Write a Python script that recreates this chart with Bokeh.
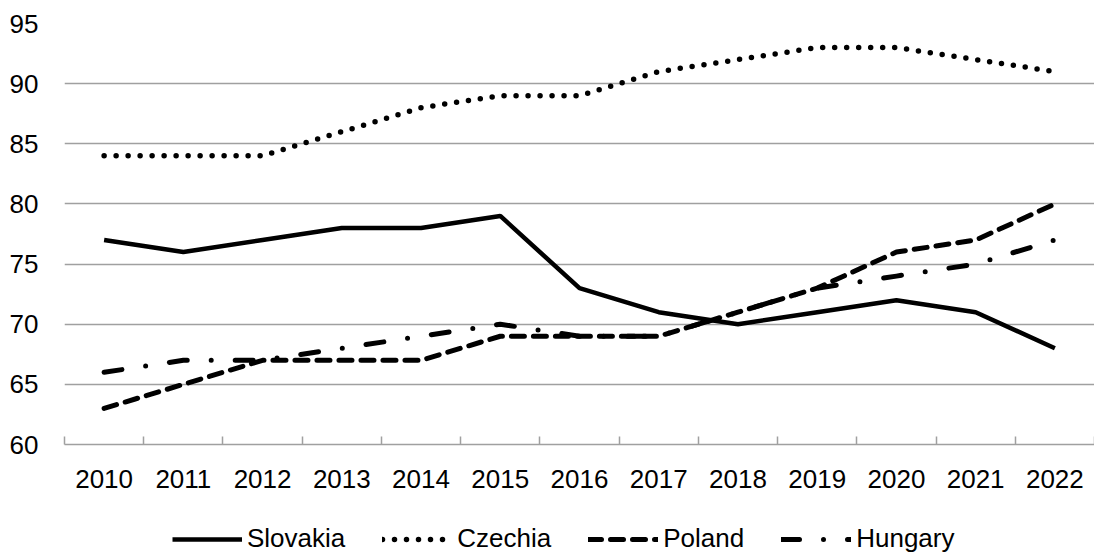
from bokeh.plotting import figure
from bokeh.layouts import column
from bokeh.models import Range1d, FixedTicker, Legend, LegendItem
from bokeh.embed import file_html
from bokeh.resources import INLINE

years = [2010, 2011, 2012, 2013, 2014, 2015, 2016, 2017, 2018, 2019, 2020, 2021, 2022]
slovakia = [77, 76, 77, 78, 78, 79, 73, 71, 70, 71, 72, 71, 68]
czechia = [84, 84, 84, 86, 88, 89, 89, 91, 92, 93, 93, 92, 91]
poland = [63, 65, 67, 67, 67, 69, 69, 69, 71, 73, 76, 77, 80]
hungary = [66, 67, 67, 68, 69, 70, 69, 69, 71, 73, 74, 75, 77]
names = ["Slovakia", "Czechia", "Poland", "Hungary"]
y_ticks = [60, 65, 70, 75, 80, 85, 90, 95]

series = [slovakia, czechia, poland, hungary]
styles = [dict(line_width=4.5),
          dict(line_width=5.5, line_dash="0 12", line_cap="round"),
          dict(line_width=5, line_dash="13 9", line_cap="round"),
          dict(line_width=5, line_dash="18 24 0 24", line_cap="round")]

FONT = "'Liberation Sans Narrow', 'Arial Narrow', 'Liberation Sans', Arial, sans-serif"
FS = "26px"

p = figure(width=1094, height=500, output_backend="svg", toolbar_location=None,
           x_range=Range1d(years[0] - 0.5, years[-1] + 0.5),
           y_range=Range1d(y_ticks[0], y_ticks[-1]),
           min_border_left=64, min_border_right=0, min_border_top=23, min_border_bottom=56)
p.outline_line_color = None

boundaries = [y - 0.5 for y in years] + [years[-1] + 0.5]
p.xaxis.ticker = FixedTicker(ticks=years, minor_ticks=boundaries)
p.xaxis.major_tick_line_color = None
p.xaxis.minor_tick_line_color = "#a0a0a0"
p.xaxis.minor_tick_line_width = 1.5
p.xaxis.minor_tick_in = 8
p.xaxis.minor_tick_out = 0
p.xaxis.axis_line_color = "#a0a0a0"
p.xaxis.axis_line_width = 1.5
p.xaxis.major_label_text_font = FONT
p.xaxis.major_label_text_font_size = FS
p.xaxis.major_label_text_color = "black"
p.xaxis.major_label_standoff = 19
p.xgrid.grid_line_color = None

p.yaxis.ticker = FixedTicker(ticks=y_ticks)
p.yaxis.axis_line_color = None
p.yaxis.major_tick_line_color = None
p.yaxis.minor_tick_line_color = None
p.yaxis.major_tick_out = 0
p.yaxis.major_label_text_font = FONT
p.yaxis.major_label_text_font_size = FS
p.yaxis.major_label_text_color = "black"
p.yaxis.major_label_standoff = 26
p.ygrid.grid_line_color = "#a0a0a0"
p.ygrid.grid_line_width = 1.5

for vals, st in zip(series, styles):
    p.line(years, vals, line_color="black", **st)

# legend strip below the chart (series drawn outside its visible range)
q = figure(width=1094, height=57, output_backend="svg", toolbar_location=None,
           x_range=Range1d(years[0] - 0.5, years[-1] + 0.5), y_range=Range1d(0, 1),
           x_axis_location=None, y_axis_location=None,
           min_border_left=0, min_border_right=0, min_border_top=0, min_border_bottom=0)
q.outline_line_color = None
q.xgrid.grid_line_color = None
q.ygrid.grid_line_color = None
items = []
for name, vals, st in zip(names, series, styles):
    r = q.line(years, vals, line_color="black", **st)
    items.append(LegendItem(label=name, renderers=[r]))

legend = Legend(items=items, orientation="horizontal", location=(108, 3),
                glyph_width=70, glyph_height=28, label_height=28, label_standoff=5, spacing=37,
                padding=0, margin=0, border_line_color=None, background_fill_alpha=0,
                label_text_font=FONT, label_text_font_size=FS, label_text_color="black")
q.add_layout(legend, "center")

layout = column(p, q, spacing=0)
open("out.html", "w").write(file_html(layout, INLINE))
